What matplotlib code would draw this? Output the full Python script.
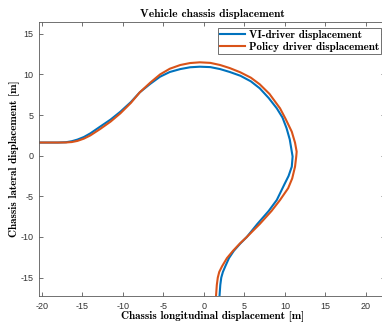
import matplotlib
matplotlib.use("Agg")
import matplotlib.pyplot as plt

# VI-driver displacement (blue)
vi_x = [-20.3, -18.0, -17.0, -16.3, -15.6, -14.8, -14.0, -12.8, -11.5, -10.3, -9.0, -7.9, -6.6, -5.4,
        -4.2, -2.9, -1.7, -0.5, 0.8, 2.0, 3.2, 4.5, 5.8, 6.9, 8.0, 9.0, 9.7, 10.2, 10.6, 10.85, 10.95,
        10.85, 10.45, 9.95, 9.0, 8.0, 6.6, 5.3, 4.5, 3.7, 3.1, 2.65, 2.35, 2.15, 2.03, 1.93]
vi_y = [1.62, 1.62, 1.66, 1.78, 1.98, 2.3, 2.75, 3.57, 4.45, 5.41, 6.6, 7.8, 8.85, 9.72,
        10.3, 10.66, 10.88, 10.95, 10.9, 10.66, 10.3, 9.84, 9.15, 8.29, 7.1, 5.83, 4.7, 3.4, 2.0, 0.5, -0.1,
        -1.35, -2.5, -3.5, -5.45, -6.8, -8.4, -10.0, -10.8, -11.7, -12.6, -13.6, -14.3, -15.0, -15.9, -17.3]

# Policy driver displacement (orange)
pd_x = [-20.3, -18.0, -17.0, -16.3, -15.6, -14.8, -14.0, -12.8, -11.5, -10.3, -9.0, -7.9, -6.6, -5.4,
        -4.2, -2.9, -1.7, -0.5, 0.8, 2.0, 3.2, 4.5, 5.8, 6.9, 8.1, 9.4, 10.1, 10.85, 11.25, 11.45, 11.4,
        11.25, 10.9, 10.4, 9.4, 8.35, 6.9, 5.3, 4.45, 3.6, 2.85, 2.25, 1.9, 1.72, 1.6, 1.5]
pd_y = [1.62, 1.62, 1.63, 1.68, 1.82, 2.1, 2.5, 3.28, 4.2, 5.21, 6.5, 7.8, 9.0, 10.0,
        10.7, 11.16, 11.4, 11.49, 11.42, 11.16, 10.78, 10.26, 9.6, 8.78, 7.6, 5.83, 4.5, 2.95, 1.6, 0.5, -0.1,
        -1.35, -2.8, -4.0, -5.45, -6.8, -8.4, -10.0, -10.8, -11.7, -12.6, -13.6, -14.3, -15.0, -15.9, -17.3]

x_ticks = [-20, -15, -10, -5, 0, 5, 10, 15, 20]
y_ticks = [-15, -10, -5, 0, 5, 10, 15]

W, H = 382, 322
fig = plt.figure(figsize=(W / 100, H / 100), dpi=100)
left_px, right_px, top_px, bot_px = 39.3, 385.0, 22.0, 296.0
ax = fig.add_axes([left_px / W, 1 - bot_px / H, (right_px - left_px) / W, (bot_px - top_px) / H])

blue = "#0072BD"
orange = "#D95319"
ax.plot(vi_x, vi_y, color=blue, lw=1.5, label="VI-driver displacement")
ax.plot(pd_x, pd_y, color=orange, lw=1.5, label="Policy driver displacement")

ax.set_xlim(-20.3, 22.35)
ax.set_ylim(-17.26, 16.45)
ax.set_xticks(x_ticks)
ax.set_yticks(y_ticks)
ax.set_xticklabels([str(v) for v in x_ticks])
ax.set_yticklabels([str(v) for v in y_ticks])

gray = "#333333"
for s in ax.spines.values():
    s.set_color("#595959")
    s.set_linewidth(0.6)
ax.tick_params(direction="in", top=True, right=True, length=3, width=0.6,
               colors="#595959", labelcolor=gray, labelsize=6.5, pad=4)
for lab in ax.get_xticklabels() + ax.get_yticklabels():
    lab.set_family("Liberation Sans")

serif_family = ["cmb10", "Liberation Serif"]
ax.set_title("Vehicle chassis displacement", fontsize=8.3, pad=3.8, color="black", family=serif_family)
ax.set_xlabel("Chassis longitudinal displacement [m]", fontsize=8, labelpad=0, color="black",
              family=serif_family)
ax.set_ylabel("Chassis lateral displacement [m]", fontsize=8, labelpad=1.5, color="black",
              family=serif_family)

leg = ax.legend(loc="upper left", bbox_to_anchor=(218 / W, 1 - 28 / H),
                bbox_transform=fig.transFigure, fancybox=False, framealpha=1,
                edgecolor="#595959", borderpad=0.2, labelspacing=0.15, handlelength=2.25,
                handletextpad=0.3, borderaxespad=0,
                prop=dict(family=serif_family, size=8))
leg.get_frame().set_linewidth(0.6)

fig.savefig("out.png", dpi=100)
